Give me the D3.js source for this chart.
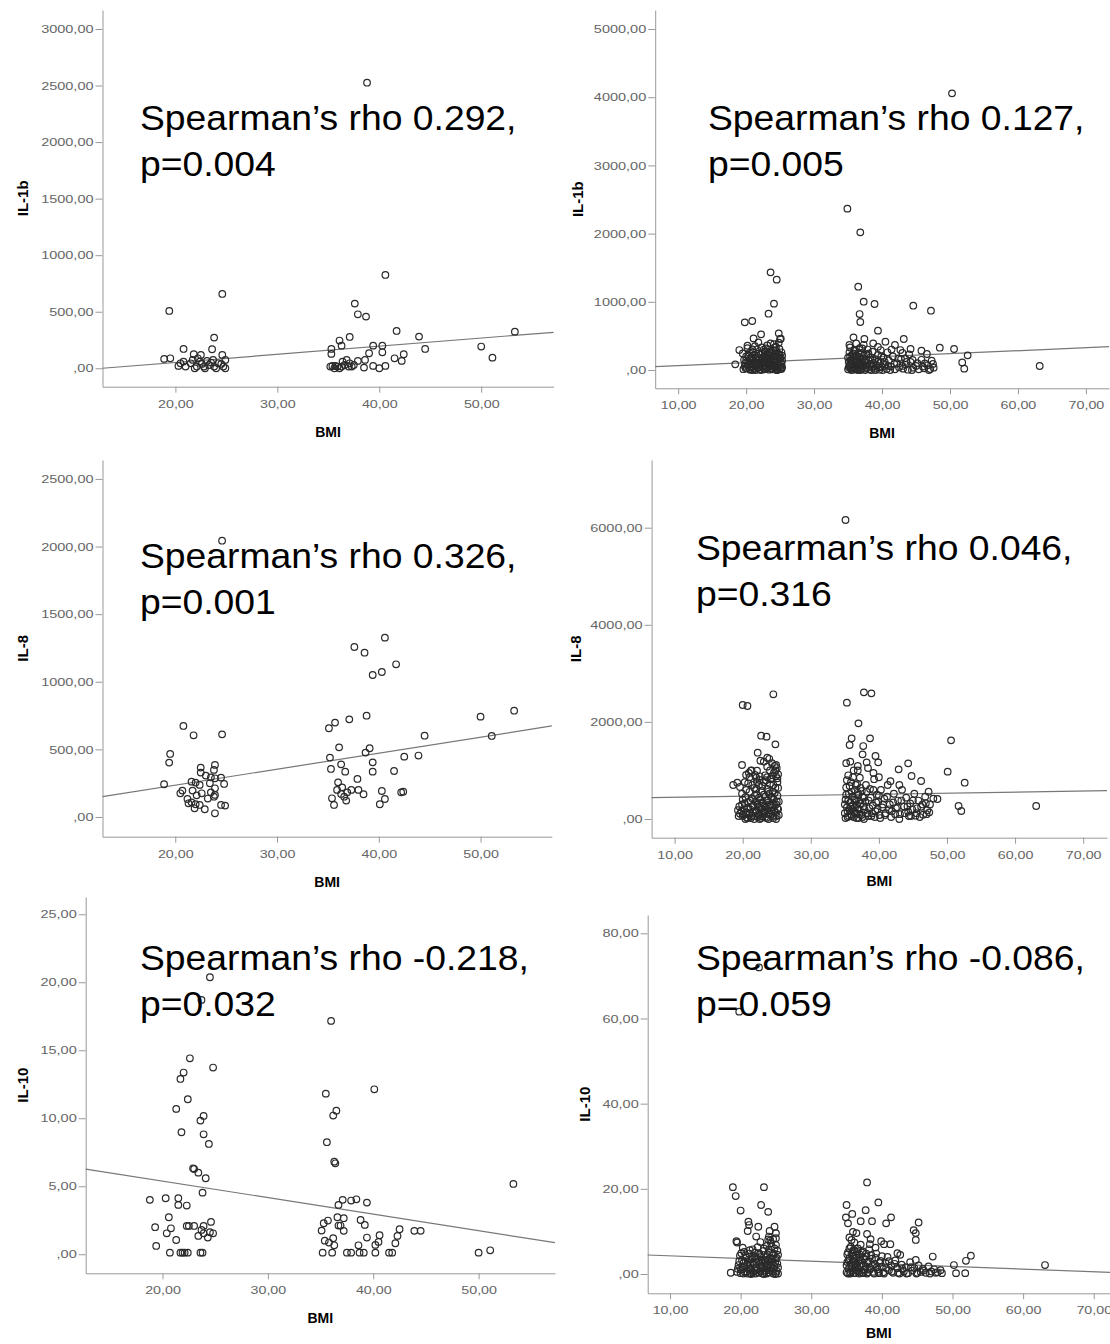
<!DOCTYPE html>
<html>
<head>
<meta charset="utf-8">
<script src="https://cdn.jsdelivr.net/npm/d3@7"></script>
<style>
  body { margin: 0; background: #fff; }
  svg { display: block; }
  .tick text { font-family: "Liberation Sans", Arial, sans-serif; font-size: 11.5px; fill: #666; }
  .axis path, .axis line { stroke: #999; }
</style>
</head>
<body>
<script>
// BMI vs cytokines, left column = smaller cohort, right column = larger cohort

// IL-1b, cohort A
const il1bA = [[38.8,2525],[24.6,657],[19.4,507],[40.6,825],[37.6,572],[37.9,477],[38.7,457],[41.7,330],[43.9,280],[44.5,171],
  [50.0,192],[51.1,94],[53.3,324],[23.8,271],[37.1,277],[36.1,245],[36.3,200],[35.3,171],[35.3,127],[39.4,200],[40.3,200],
  [40.3,141],[39.0,133],[41.5,88],[42.4,124],[42.2,65],[38.6,74],[37.9,65],[38.5,6],[39.4,21],[40.0,0],[40.6,21],[20.8,171],
  [21.8,124],[22.5,118],[23.6,168],[24.6,118],[18.9,83],[19.5,88],[20.5,44],[21.0,15],[21.5,44],[22.1,15],[22.4,59],[22.8,15],
  [23.3,29],[23.8,15],[24.2,44],[24.7,15],[24.9,74],[21.9,0],[22.9,0],[24.0,0],[24.9,0],[20.3,21],[20.8,59],[23.1,65],[23.7,74],
  [21.7,74],[22.6,38],[23.5,50],[22.2,88],[24.5,38],[35.2,15],[35.6,0],[35.9,15],[36.3,15],[36.6,29],[37.0,15],[37.3,15],
  [36.4,59],[36.8,74],[35.7,21],[36.1,0],[37.1,44],[35.4,21],[37.5,29]];

// IL-1b, cohort B
const il1bB = [[50.3,4057],[34.9,2366],[36.8,2019],[23.6,1432],[24.5,1325],[36.5,1222],[24.1,973],[23.3,826],[37.3,1002],[38.9,968],
  [36.7,821],[36.8,704],[19.8,699],[20.9,719],[44.6,943],[47.2,870],[39.4,577],[48.5,327],[50.6,308],[52.6,215],[51.8,112],
  [52.1,20],[63.2,59],[22.2,523],[24.8,538],[21.1,464],[25.0,455],[20.2,357],[23.6,391],[21.8,406],[19.0,293],[22.9,318],
  [19.5,244],[20.9,303],[24.4,342],[18.4,83],
  [19.6,12],[19.8,60],[20.0,140],[20.1,25],[20.3,210],[20.4,85],[20.6,5],[20.7,170],[20.8,40],[21.0,260],[21.1,110],[21.2,15],
  [21.4,190],[21.5,65],[21.6,300],[21.7,30],[21.9,150],[22.0,8],[22.1,230],[22.2,90],[22.4,45],[22.5,180],[22.6,120],[22.7,10],
  [22.8,270],[22.9,70],[23.0,155],[23.1,30],[23.2,215],[23.3,100],[23.4,5],[23.5,250],[23.6,60],[23.7,180],[23.8,20],[23.9,130],
  [24.0,290],[24.1,80],[24.2,40],[24.3,200],[24.4,10],[24.5,150],[24.6,95],[24.7,240],[24.8,30],[24.9,175],[25.0,60],[25.1,120],
  [25.2,15],[25.3,210],[20.2,320],[21.3,350],[22.3,330],[23.1,360],[24.1,380],[24.9,310],[19.9,95],[21.8,75],[23.6,110],[24.6,0],
  [22.9,200],[20.9,0],[25.2,260],
  [19.7,150],[19.9,30],[20.0,200],[20.2,70],[20.3,130],[20.5,10],[20.5,250],[20.6,100],[20.8,190],[20.9,55],[21.0,140],[21.1,20],
  [21.2,220],[21.3,80],[21.4,0],[21.5,160],[21.7,110],[21.8,240],[21.9,40],[22.0,180],[22.1,70],[22.2,0],[22.3,140],[22.4,260],
  [22.5,60],[22.6,20],[22.7,200],[22.8,110],[22.9,150],[23.0,40],[23.1,240],[23.2,80],[23.3,170],[23.4,130],[23.5,20],[23.6,210],
  [23.7,90],[23.8,250],[23.9,50],[24.0,160],[24.0,10],[24.1,220],[24.2,120],[24.3,60],[24.4,280],[24.5,0],[24.6,190],[24.7,70],
  [24.8,130],[24.9,230],[25.0,20],[25.1,180],[25.2,90],[25.3,40],[25.3,140],[21.6,190],[22.6,300],[23.4,300],[24.2,330],
  [24.8,400],[25.1,460],
  [35.8,479],[43.2,455],[37.4,455],[40.5,415],[38.7,391],[41.9,367],[35.2,367],[44.2,308],[45.8,284],[37.1,318],[39.8,293],
  [42.7,293],[46.6,235],[47.3,137],[47.6,34],[46.3,98],[44.5,147],[43.4,171],
  [35.0,10],[35.1,120],[35.2,60],[35.3,200],[35.4,25],[35.5,150],[35.6,90],[35.7,5],[35.8,240],[35.9,45],[36.0,170],[36.1,110],
  [36.2,15],[36.3,210],[36.4,70],[36.5,130],[36.6,30],[36.7,190],[36.8,0],[36.9,95],[37.0,250],[37.1,50],[37.2,160],[37.4,20],
  [37.5,110],[37.7,230],[37.8,65],[38.0,140],[38.1,10],[38.3,185],[38.5,45],[38.7,100],[38.9,20],[39.0,160],[39.2,70],[39.4,220],
  [39.6,5],[39.8,120],[40.0,40],[40.2,180],[40.5,80],[40.7,15],[41.0,140],[41.3,50],[41.6,200],[41.9,10],[42.2,100],[42.5,40],
  [42.8,160],[43.1,20],[43.5,80],[43.8,5],[44.2,120],[44.6,35],[45.0,60],[45.4,10],[45.8,150],[46.2,25],[46.7,70],[47.1,15],
  [35.3,330],[36.0,290],[36.7,320],[37.9,300],[38.6,270],[39.4,340],[40.8,260],[41.4,300],[43.0,250],[44.0,230],
  [35.0,180],[35.1,40],[35.2,260],[35.3,90],[35.4,140],[35.5,0],[35.6,220],[35.7,60],[35.8,120],[35.9,280],[36.0,20],[36.1,200],
  [36.2,80],[36.3,140],[36.4,0],[36.5,250],[36.6,100],[36.7,50],[36.8,170],[36.9,10],[37.0,120],[37.2,60],[37.3,210],[37.5,0],
  [37.6,150],[37.8,30],[38.0,240],[38.2,90],[38.4,0],[38.6,150],[38.8,60],[39.0,0],[39.3,120],[39.5,40],[39.9,200],[40.1,0],
  [40.4,120],[40.9,60],[41.2,0],[41.8,90],[42.4,170],[43.0,60],[43.6,120],[44.4,0],[45.2,100],[46.0,50],[46.9,0],[47.5,90],
  [36.2,390],[37.3,370]];

// IL-8, cohort A
const il8A = [[24.6,2043],[40.6,1326],[37.6,1257],[38.6,1215],[41.7,1129],[40.3,1072],[39.4,1050],[38.8,749],[37.1,722],[35.7,698],
  [35.1,656],[50.0,742],[53.3,786],[51.1,599],[44.5,601],[42.5,446],[43.9,454],[39.1,508],[38.7,476],[36.1,515],[35.2,439],
  [39.4,404],[39.4,335],[41.5,340],[35.3,355],[36.3,389],[36.7,335],[37.9,281],[36.0,256],[40.3,192],[40.6,133],[40.1,94],
  [42.2,182],[42.4,187],[38.5,168],[38.0,200],[37.3,200],[36.9,182],[36.4,219],[35.9,200],[36.6,150],[35.4,138],[35.6,89],
  [36.8,121],[36.3,170],
  [20.8,673],[21.8,604],[24.6,611],[19.5,466],[19.4,402],[18.9,242],[22.5,365],[23.9,385],[23.8,348],[22.5,328],[23.0,306],
  [23.5,293],[23.9,286],[24.5,291],[24.8,244],[21.6,261],[22.0,254],[22.4,237],[23.4,249],[23.9,212],[20.5,175],[20.7,195],
  [21.7,195],[22.1,160],[22.6,175],[23.5,182],[23.8,150],[21.2,133],[21.6,108],[22.0,94],[21.3,101],[22.4,89],[22.9,57],
  [23.9,27],[24.5,89],[24.9,84],[21.9,64],[23.2,136],[23.9,163]];

// IL-8, cohort B
const il8B = [[35.1,6158],[24.5,2568],[37.8,2609],[38.9,2588],[20.0,2348],[20.7,2327],[35.3,2396],[37.0,1970],[22.7,1716],[23.5,1696],
  [24.8,1538],[36.0,1661],[38.7,1661],[50.6,1620],[35.7,1524],[37.7,1503],[22.2,1366],[23.6,1263],[37.6,1332],[39.5,1298],
  [38.2,1167],[39.9,1167],[44.3,1146],[19.9,1112],[24.7,1092],[36.9,1092],[50.1,975],[42.9,1023],[44.8,886],[52.6,748],
  [46.2,783],[18.6,700],[19.2,748],[51.7,268],[52.1,165],[63.1,268],[48.6,412],[47.3,563],[46.9,323],[47.4,137],[45.4,69],
  [44.4,62],[21.2,995],[22.1,995],[20.5,906],[21.8,906],[23.6,1078],[24.9,1112],[23.1,1181],[20.8,735],[22.5,803],[24.2,838],
  [25.1,838],
  [19.3,180],[19.6,110],[19.9,300],[20.0,60],[20.2,220],[20.4,450],[20.5,140],[20.6,30],[20.8,350],[20.9,90],[21.0,560],[21.1,200],
  [21.2,20],[21.4,420],[21.5,130],[21.6,280],[21.7,640],[21.8,60],[21.9,350],[22.0,180],[22.1,500],[22.2,40],[22.3,260],[22.4,700],
  [22.5,110],[22.6,400],[22.7,220],[22.8,580],[22.9,50],[23.0,320],[23.1,760],[23.2,150],[23.3,460],[23.4,240],[23.5,20],[23.6,620],
  [23.7,380],[23.8,100],[23.9,520],[24.0,280],[24.1,820],[24.2,170],[24.3,440],[24.4,60],[24.5,700],[24.6,300],[24.7,540],[24.8,130],
  [24.9,880],[25.0,360],[25.1,220],[25.2,640],[25.3,80],[24.6,960],[25.1,760],[23.3,900],[22.0,850],[20.9,950],[19.6,660],
  [19.9,520],[24.0,1000],[20.3,760],[21.3,1000],[22.6,1200],[23.9,1240],[25.0,1050],[24.3,1150],[20.4,0],[22.5,0],[24.9,0],
  [19.4,60],[19.5,260],[19.8,160],[20.0,400],[20.1,100],[20.3,320],[20.5,600],[20.7,20],[20.8,240],[21.0,120],[21.1,380],[21.3,60],
  [21.4,700],[21.5,260],[21.7,0],[21.8,480],[21.9,160],[22.0,620],[22.2,300],[22.3,80],[22.4,440],[22.5,880],[22.6,200],[22.7,20],
  [22.8,340],[22.9,680],[23.0,120],[23.1,500],[23.2,260],[23.3,40],[23.4,800],[23.5,380],[23.6,180],[23.7,560],[23.8,0],[23.9,300],
  [24.0,720],[24.1,100],[24.2,460],[24.3,240],[24.4,900],[24.5,20],[24.6,400],[24.7,160],[24.8,640],[24.9,300],[25.0,60],[25.1,480],
  [25.2,200],[25.3,360],[24.4,560],[23.6,860],[22.1,760],[21.0,860],[24.8,1000],[25.2,920],
  [35.0,120],[35.1,400],[35.2,650],[35.3,240],[35.4,40],[35.5,900],[35.6,520],[35.7,180],[35.8,340],[35.9,760],[36.0,60],[36.1,460],
  [36.2,280],[36.3,1000],[36.4,140],[36.5,600],[36.6,380],[36.7,20],[36.8,720],[36.9,220],[37.0,500],[37.1,100],[37.2,850],
  [37.3,320],[37.5,580],[37.6,40],[37.8,440],[37.9,200],[38.1,700],[38.3,120],[38.5,380],[38.7,620],[38.9,60],[39.1,280],
  [39.3,820],[39.5,160],[39.7,500],[39.9,360],[40.1,80],[40.3,600],[40.5,240],[40.8,420],[41.0,120],[41.3,700],[41.6,300],
  [41.9,160],[42.2,520],[42.5,220],[42.8,380],[43.1,100],[43.4,600],[43.7,260],[44.0,440],[44.3,150],[44.6,320],[44.9,200],
  [45.2,520],[45.5,120],[45.8,380],[46.2,250],[46.5,90],[46.8,460],[47.1,180],[47.5,300],[48.0,420],[35.2,1150],[35.8,1180],
  [36.9,1000],[38.4,1050],[39.2,950],[40.0,860],[41.7,780],[43.0,700],
  [35.0,300],[35.1,20],[35.2,500],[35.3,800],[35.4,160],[35.5,380],[35.6,60],[35.7,680],[35.8,260],[35.9,100],[36.0,560],[36.1,200],
  [36.2,860],[36.3,40],[36.4,400],[36.5,240],[36.6,700],[36.7,120],[36.8,300],[36.9,540],[37.0,20],[37.1,380],[37.2,200],[37.3,640],
  [37.4,80],[37.6,460],[37.7,260],[37.8,0],[38.0,360],[38.2,560],[38.4,60],[38.6,220],[38.8,440],[39.0,120],[39.2,600],[39.4,40],
  [39.6,340],[39.8,200],[40.0,480],[40.2,20],[40.6,300],[40.9,80],[41.2,460],[41.5,200],[41.8,40],[42.1,340],[42.4,100],[42.7,240],
  [43.0,0],[43.3,380],[43.8,120],[44.2,260],[44.7,60],[45.0,380],[45.6,220],[46.0,40],[46.4,300],[47.0,100]];

// IL-10, cohort A
const il10A = [[24.5,20.37],[23.7,18.70],[36.0,17.16],[22.6,14.41],[24.8,13.73],[22.0,13.36],[21.7,12.89],[40.1,12.13],[35.5,11.81],
  [22.4,11.40],[21.3,10.69],[36.5,10.56],[36.2,10.20],[23.9,10.17],[23.6,9.83],[21.8,8.97],[23.9,8.82],[24.4,8.11],[35.6,8.24],
  [36.3,6.81],[36.4,6.69],[22.9,6.32],[23.0,6.27],[23.4,6.00],[24.1,5.59],[23.8,4.53],[53.3,5.17],[18.8,4.00],[20.3,4.12],
  [21.5,4.12],[21.5,3.63],[22.3,3.58],[37.1,4.00],[37.9,3.95],[38.4,4.04],[39.4,3.80],[36.7,3.63],[20.6,2.72],[36.6,2.72],
  [37.2,2.65],[38.8,2.52],[19.3,1.99],[20.8,1.91],[20.4,1.54],[21.3,1.05],[19.4,0.61],[22.3,2.08],[22.5,2.08],[23.0,2.08],
  [23.9,2.08],[24.6,2.38],[23.4,1.35],[23.9,1.54],[24.3,1.23],[24.5,1.62],[24.8,1.54],[23.7,1.79],[35.3,2.28],[35.7,2.48],
  [35.1,1.74],[35.4,1.00],[35.8,0.86],[36.2,1.18],[36.3,0.66],[36.7,2.11],[36.9,2.11],[37.2,1.72],[39.2,2.16],[39.4,1.23],
  [38.6,0.66],[40.6,1.40],[40.5,0.91],[40.2,0.69],[42.5,1.84],[42.3,1.35],[42.1,0.81],[43.9,1.72],[44.5,1.72],
  [20.7,0.12],[21.7,0.12],[21.9,0.12],[22.1,0.12],[22.4,0.12],[23.6,0.12],[23.8,0.12],[35.2,0.12],[36.1,0.12],[37.5,0.12],
  [37.9,0.12],[38.7,0.12],[39.1,0.12],[40.2,0.12],[41.5,0.12],[41.8,0.12],[50.0,0.12],[51.1,0.29]];

// IL-10, cohort B (two high values sit behind the note text)
const il10B = [[22.6,72.0],[19.8,61.6],
  [18.9,20.4],[23.3,20.4],[19.3,18.3],[22.9,16.2],[23.9,14.6],[20.0,14.9],[37.9,21.5],[35.0,16.2],[39.5,16.8],[37.7,15.0],
  [35.8,14.1],[34.9,13.3],[41.3,13.3],[37.0,12.4],[38.6,12.4],[40.6,11.9],[45.2,12.1],[35.2,11.9],[44.5,10.3],[44.8,9.6],
  [44.8,8.0],[37.9,9.4],[38.4,8.2],[39.9,7.7],[41.2,7.0],[40.3,7.0],[35.7,8.0],[36.4,9.6],[21.1,12.3],[21.2,11.5],[22.5,11.1],
  [21.0,10.1],[22.2,8.8],[19.4,7.7],[19.5,7.4],[24.8,11.1],[24.1,10.1],[25.0,8.4],[23.9,8.1],[52.6,4.3],[51.9,3.1],[50.2,2.1],
  [50.5,0.2],[51.8,0.2],[63.1,2.1],[48.5,0.2],[47.2,4.1],[44.8,3.3],[42.2,4.9],[42.6,4.5],[18.6,0.3],
  [19.5,0.5],[19.7,2.1],[19.9,4.3],[20.0,1.0],[20.2,3.2],[20.4,0.1],[20.5,5.2],[20.6,1.8],[20.8,3.9],[20.9,0.6],[21.0,2.7],
  [21.2,4.8],[21.3,1.3],[21.4,0.2],[21.6,3.5],[21.7,5.8],[21.8,2.2],[22.0,0.8],[22.1,4.1],[22.2,1.6],[22.4,6.3],[22.5,2.9],
  [22.6,0.3],[22.7,4.6],[22.9,1.9],[23.0,3.3],[23.1,0.1],[23.2,5.4],[23.4,2.4],[23.5,0.9],[23.6,4.0],[23.7,6.6],[23.8,1.4],
  [23.9,3.0],[24.0,0.4],[24.1,5.0],[24.2,2.0],[24.3,7.2],[24.4,3.6],[24.5,0.7],[24.6,4.4],[24.7,1.2],[24.8,6.0],[24.9,2.6],
  [25.0,0.2],[25.1,3.8],[25.2,5.5],[25.3,1.5],[20.3,6.2],[22.8,7.5],[24.0,8.8],[25.0,9.6],[24.6,8.2],[21.5,0.0],[23.3,0.0],
  [24.9,0.0],
  [19.6,1.2],[19.8,3.0],[20.0,0.2],[20.1,4.9],[20.3,1.5],[20.4,2.6],[20.6,0.5],[20.7,4.4],[20.9,2.2],[21.0,0.1],[21.1,3.4],
  [21.3,5.6],[21.4,2.0],[21.5,1.0],[21.7,3.9],[21.8,0.4],[21.9,2.8],[22.0,5.0],[22.1,0.1],[22.3,3.6],[22.4,1.2],[22.5,4.9],
  [22.7,2.3],[22.8,0.6],[22.9,4.0],[23.0,1.4],[23.1,2.8],[23.3,6.0],[23.4,0.5],[23.5,3.4],[23.6,1.8],[23.7,0.1],[23.8,4.6],
  [23.9,2.2],[24.0,5.7],[24.1,0.9],[24.2,3.8],[24.3,1.6],[24.4,6.4],[24.5,2.8],[24.6,0.1],[24.7,4.8],[24.8,1.9],[24.9,3.6],
  [25.0,6.8],[25.1,0.7],[25.2,2.4],[25.3,4.5],[25.3,0.1],[24.2,7.9],
  [35.0,0.4],[35.1,2.8],[35.2,5.1],[35.3,1.2],[35.4,3.7],[35.5,0.1],[35.6,6.4],[35.7,2.0],[35.8,4.3],[35.9,0.8],[36.0,3.0],
  [36.1,5.6],[36.2,1.5],[36.3,0.2],[36.4,3.9],[36.5,2.4],[36.6,6.0],[36.7,0.6],[36.8,4.7],[36.9,1.8],[37.0,3.3],[37.2,0.3],
  [37.3,5.3],[37.4,2.1],[37.6,1.0],[37.7,4.1],[37.9,0.1],[38.0,2.7],[38.2,5.8],[38.4,1.4],[38.6,3.6],[38.8,0.5],[39.0,2.3],
  [39.2,4.8],[39.4,1.1],[39.6,0.2],[39.8,3.1],[40.0,1.7],[40.2,0.4],[40.5,2.6],[40.8,4.0],[41.0,0.9],[41.3,2.0],[41.6,0.3],
  [41.9,3.2],[42.2,1.3],[42.5,0.1],[42.8,2.2],[43.1,0.6],[43.4,1.6],[43.7,0.2],[44.0,2.8],[44.3,0.8],[44.6,1.4],[44.9,0.1],
  [45.2,2.0],[45.5,0.5],[45.8,1.2],[46.2,0.3],[46.6,1.8],[47.0,0.6],[47.4,1.1],[47.9,0.4],[48.3,0.9],[35.4,8.6],[36.1,7.4],
  [37.0,6.9],[38.3,7.0],[39.1,6.2],[35.9,9.9],
  [35.0,2.0],[35.1,4.6],[35.2,0.1],[35.3,3.2],[35.4,6.0],[35.5,1.8],[35.6,0.4],[35.7,4.8],[35.8,2.6],[35.9,5.5],[36.0,0.2],
  [36.1,3.6],[36.2,2.2],[36.3,4.4],[36.4,0.8],[36.5,5.2],[36.6,1.2],[36.7,3.0],[36.8,0.1],[36.9,4.0],[37.1,2.4],[37.2,5.0],
  [37.4,0.2],[37.5,3.6],[37.7,1.8],[37.8,4.8],[38.0,0.4],[38.1,3.0],[38.3,1.0],[38.5,4.4],[38.7,2.0],[38.9,0.1],[39.1,3.8],
  [39.3,1.6],[39.5,0.5],[39.7,2.6],[40.0,4.2],[40.3,0.1],[40.6,1.4],[41.0,3.0],[41.4,0.6],[41.8,2.4],[42.3,0.3],[42.9,1.2],
  [43.5,0.1],[44.1,1.6],[45.0,0.3],[45.9,0.8],[46.8,0.1],[47.6,0.3]];

// fit lines [intercept, slope]
const fits = [[-92.4, 7.19], [20, 4.39], [-2.3, 11.85], [425, 2.15], [7.81, -0.1215], [4.89, -0.0622]];

// tick values
const xTicksA = [20, 30, 40, 50];
const xTicksB = [10, 20, 30, 40, 50, 60, 70];
const yTicks = [
  [0, 500, 1000, 1500, 2000, 2500, 3000],
  [0, 1000, 2000, 3000, 4000, 5000],
  [0, 500, 1000, 1500, 2000, 2500],
  [0, 2000, 4000, 6000],
  [0, 5, 10, 15, 20, 25],
  [0, 20, 40, 60, 80]
];
const yTitles = ['IL-1b', 'IL-1b', 'IL-8', 'IL-8', 'IL-10', 'IL-10'];
const notes = [
  ['Spearman\u2019s rho 0.292,', 'p=0.004'],
  ['Spearman\u2019s rho 0.127,', 'p=0.005'],
  ['Spearman\u2019s rho 0.326,', 'p=0.001'],
  ['Spearman\u2019s rho 0.046,', 'p=0.316'],
  ['Spearman\u2019s rho -0.218,', 'p=0.032'],
  ['Spearman\u2019s rho -0.086,', 'p=0.059']
];
const series = [il1bA, il1bB, il8A, il8B, il10A, il10B];

// layout of each panel in page pixels
const layout = [
  { l: 102.5, r: 553.6, t: 10, b: 386.7, xd: [12.85, 57.1], yd: [-163, 3168], yt: 80, bt: 50, nx: 140, ny: 130 },
  { l: 655.2, r: 1109, t: 10, b: 388.3, xd: [6.62, 73.4], yd: [-268, 5279], yt: 77, bt: 50, nx: 708, ny: 130 },
  { l: 102.5, r: 551.8, t: 460, b: 836.7, xd: [12.85, 57.0], yd: [-146, 2640], yt: 80, bt: 50, nx: 140, ny: 568 },
  { l: 651.6, r: 1107, t: 460, b: 837.7, xd: [6.62, 73.5], yd: [-385, 7394], yt: 76, bt: 48, nx: 696, ny: 560 },
  { l: 85.7, r: 555, t: 897, b: 1273.3, xd: [12.71, 57.25], yd: [-1.40, 26.27], yt: 63, bt: 50, nx: 140, ny: 970 },
  { l: 647.7, r: 1110, t: 915, b: 1293.3, xd: [6.84, 72.3], yd: [-4.53, 84.3], yt: 63, bt: 45, nx: 696, ny: 970 }
];

const fmt = v => v === 0 ? ',00' : v.toFixed(2).replace('.', ',');

const svg = d3.select('body').append('svg')
  .attr('width', 1110)
  .attr('height', 1344);

// the source figure is a little wider than its fonts, so stretch text sideways
function stretch(sel, k) {
  sel.each(function() {
    const w = this.getComputedTextLength();
    d3.select(this).attr('textLength', w * k).attr('lengthAdjust', 'spacingAndGlyphs');
  });
}

layout.forEach((p, i) => {
  const x = d3.scaleLinear().domain(p.xd).range([p.l, p.r]);
  const y = d3.scaleLinear().domain(p.yd).range([p.b, p.t]);
  const g = svg.append('g');

  const gy = g.append('g')
    .attr('class', 'axis')
    .attr('transform', `translate(${p.l},0)`)
    .call(d3.axisLeft(y).tickValues(yTicks[i]).tickFormat(fmt).tickSize(7).tickSizeOuter(0).tickPadding(2));
  stretch(gy.selectAll('text'), 1.26);

  const gx = g.append('g')
    .attr('class', 'axis')
    .attr('transform', `translate(0,${p.b})`)
    .call(d3.axisBottom(x).tickValues(i % 2 === 0 ? xTicksA : xTicksB).tickFormat(fmt).tickSize(6).tickSizeOuter(0).tickPadding(7));
  stretch(gx.selectAll('text'), 1.24);

  // axis titles
  g.append('text')
    .attr('x', (p.l + p.r) / 2)
    .attr('y', p.b + p.bt)
    .attr('text-anchor', 'middle')
    .style('font', 'bold 14px "Liberation Sans", Arial, sans-serif')
    .text('BMI');

  g.append('text')
    .attr('transform', `translate(${p.l - p.yt},${(p.t + p.b) / 2}) rotate(-90)`)
    .attr('text-anchor', 'middle')
    .attr('dy', '0.35em')
    .style('font', 'bold 15px "Liberation Sans", Arial, sans-serif')
    .text(yTitles[i]);

  // fit line
  const f = fits[i];
  g.append('line')
    .attr('x1', x(p.xd[0])).attr('y1', y(f[0] + f[1] * p.xd[0]))
    .attr('x2', x(p.xd[1])).attr('y2', y(f[0] + f[1] * p.xd[1]))
    .attr('stroke', '#777')
    .attr('stroke-width', 1.2);

  // points
  g.selectAll('circle')
    .data(series[i])
    .enter().append('circle')
    .attr('cx', d => x(d[0]))
    .attr('cy', d => y(d[1]))
    .attr('r', 3.3)
    .attr('fill', 'none')
    .attr('stroke', '#2a2a2a')
    .attr('stroke-width', 1.2);

  // correlation note, drawn over the points
  const note = g.append('text')
    .style('font', '35px "Liberation Sans", Arial, sans-serif')
    .style('fill', '#000');
  notes[i].forEach((line, j) => {
    note.append('tspan')
      .attr('x', p.nx)
      .attr('y', p.ny + j * 46)
      .text(line);
  });
  stretch(note.selectAll('tspan'), 1.065);
});
</script>
</body>
</html>
